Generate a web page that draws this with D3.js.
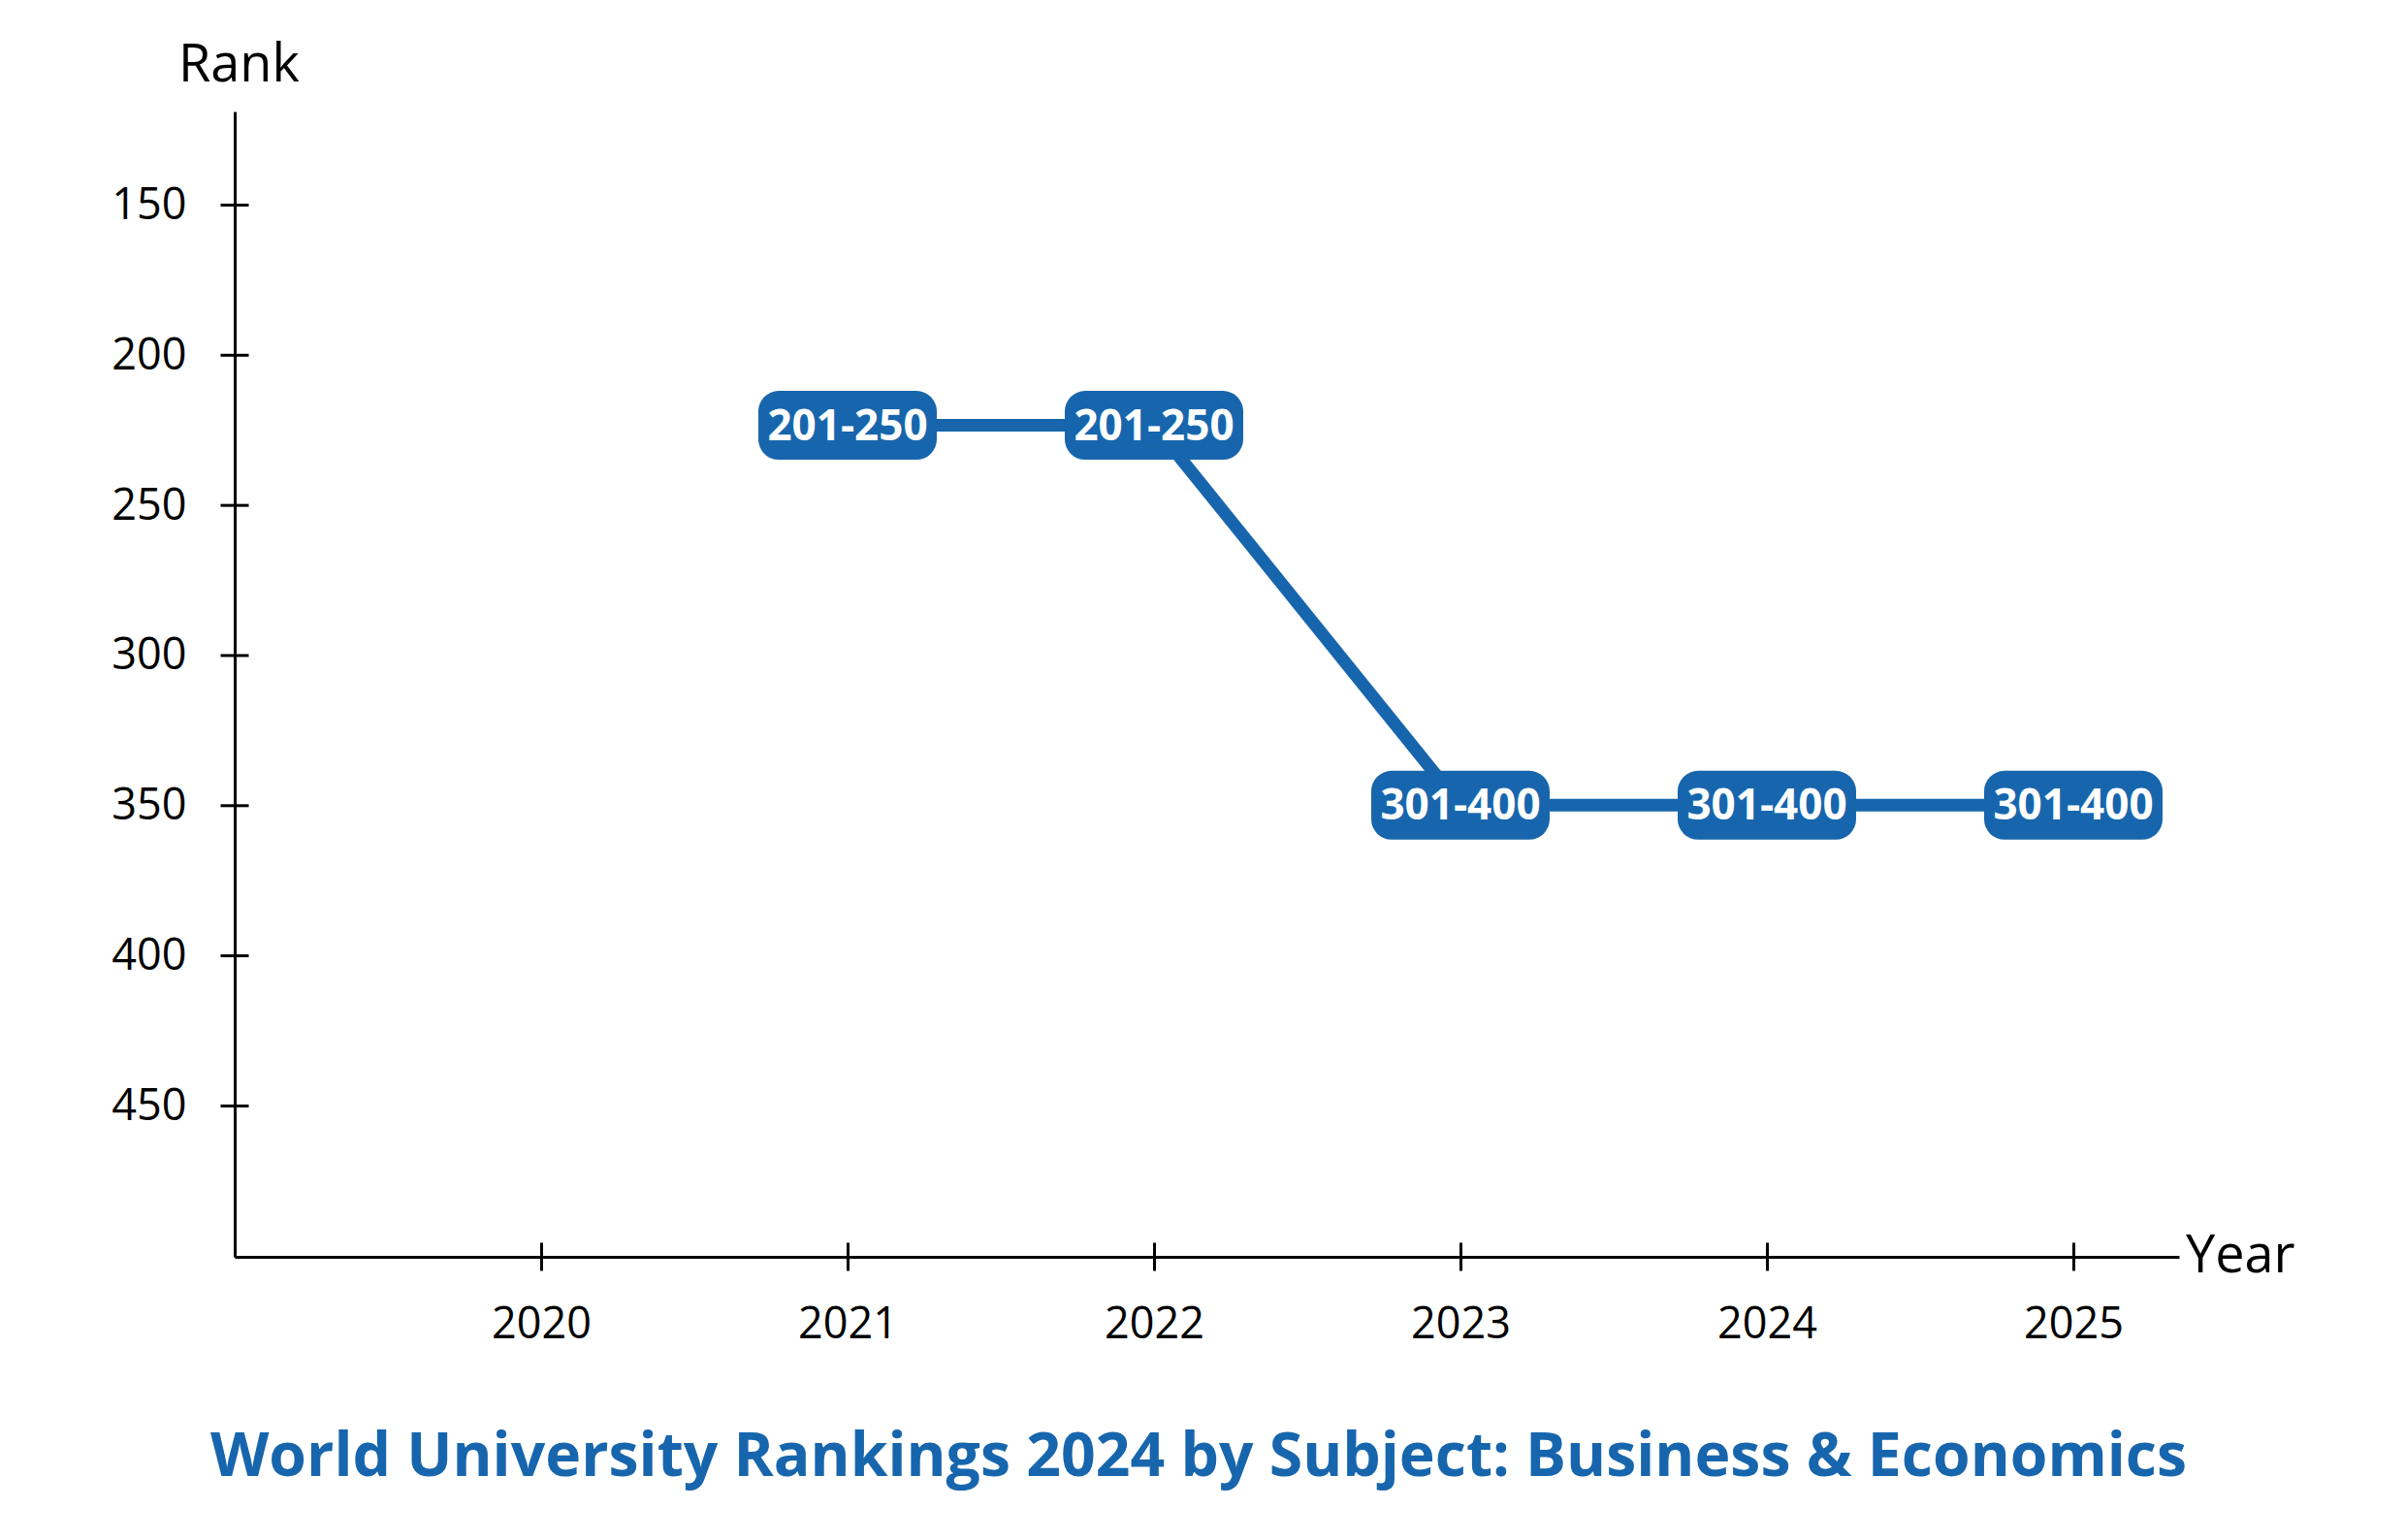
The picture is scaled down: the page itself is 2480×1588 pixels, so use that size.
<!DOCTYPE html>
<html>
<head>
<meta charset="utf-8">
<script src="https://cdn.jsdelivr.net/npm/d3@7"></script>
<style>
  body { margin: 0; background: #fff; }
  text { font-family: "Open Sans", "Noto Sans", sans-serif; }
</style>
</head>
<body>
<div id="chart"></div>
<script>
// data
var years = [2021, 2022, 2023, 2024, 2025];
var rankMid = [223.5, 223.5, 350, 350, 350];
var rankLabels = ["201-250", "201-250", "301-400", "301-400", "301-400"];
var xTicks = [2020, 2021, 2022, 2023, 2024, 2025];
var yTicks = [150, 200, 250, 300, 350, 400, 450];

var svgWidth = 2480;
var svgHeight = 1588;
var blue = "#1766ad";

var margin = { top: 115, right: 233, bottom: 292, left: 242 };
var width = svgWidth - margin.left - margin.right;
var height = svgHeight - margin.top - margin.bottom;

var svg = d3.select("#chart")
    .append("svg")
    .attr("width", svgWidth)
    .attr("height", svgHeight);

var chartGroup = svg.append("g")
    .attr("transform", `translate(${margin.left}, ${margin.top})`);

var xScale = d3.scaleLinear()
    .domain([2019, 2025.345])
    .range([0, width]);

var yScale = d3.scaleLinear()
    .domain([119, 500.4])
    .range([0, height]);

// x axis
var xAxis = chartGroup.append("g")
    .attr("transform", `translate(0, ${height})`)
    .call(d3.axisBottom(xScale).tickValues(xTicks).tickFormat(d3.format("d"))
        .tickSizeInner(14.5).tickSizeOuter(0).tickPadding(38));
xAxis.selectAll(".tick").append("line")
    .attr("y2", -14.5);

// y axis
var yAxis = chartGroup.append("g")
    .call(d3.axisLeft(yScale).tickValues(yTicks)
        .tickSizeInner(14.5).tickSizeOuter(0).tickPadding(35));
yAxis.selectAll(".tick").append("line")
    .attr("x2", 14.5);

chartGroup.selectAll(".domain, .tick line")
    .attr("stroke", "#000")
    .attr("stroke-width", 3);
chartGroup.selectAll(".tick text")
    .attr("font-family", "'Open Sans', sans-serif")
    .attr("font-size", 45)
    .attr("fill", "#000");

// axis titles
svg.append("text")
    .attr("x", 184)
    .attr("y", 84)
    .attr("font-size", 54)
    .text("Rank");

svg.append("text")
    .attr("x", 2254)
    .attr("y", 1312)
    .attr("font-size", 54)
    .text("Year");

// line
var data = years.map((y, i) => ({ year: y, rank: rankMid[i], label: rankLabels[i] }));

var line = d3.line()
    .x(d => xScale(d.year))
    .y(d => yScale(d.rank));

chartGroup.append("path")
    .datum(data)
    .attr("d", line)
    .attr("fill", "none")
    .attr("stroke", blue)
    .attr("stroke-width", 13);

// label boxes
var boxW = 184, boxH = 71;
var labels = chartGroup.selectAll(".lbl")
    .data(data)
    .enter()
    .append("g")
    .attr("transform", d => `translate(${xScale(d.year)}, ${yScale(d.rank)})`);

labels.append("rect")
    .attr("x", -boxW / 2)
    .attr("y", -boxH / 2)
    .attr("width", boxW)
    .attr("height", boxH)
    .attr("rx", 21)
    .attr("fill", blue);

labels.append("text")
    .attr("text-anchor", "middle")
    .attr("dy", "0.34em")
    .attr("font-size", 44)
    .attr("font-weight", 700)
    .attr("fill", "#fff")
    .text(d => d.label);

// title
svg.append("text")
    .attr("x", 1236)
    .attr("y", 1522)
    .attr("text-anchor", "middle")
    .attr("font-size", 62.5)
    .attr("font-weight", 700)
    .attr("fill", blue)
    .text("World University Rankings 2024 by Subject: Business & Economics");
</script>
</body>
</html>
